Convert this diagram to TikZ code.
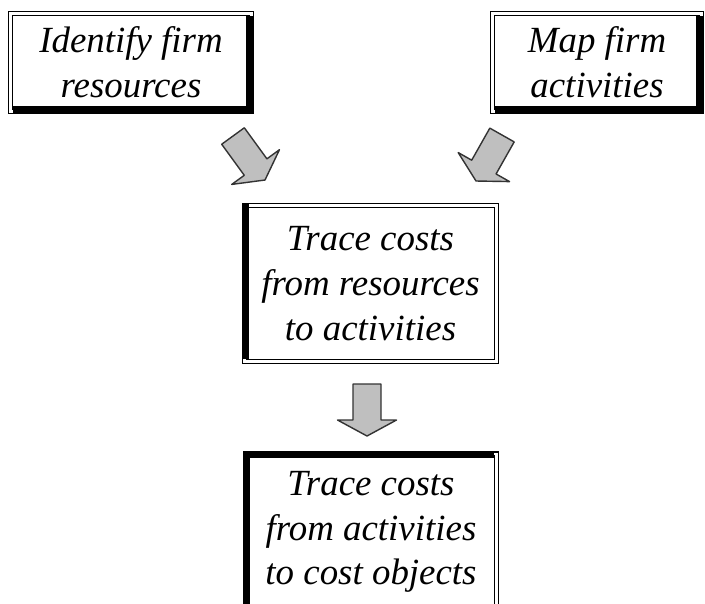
\documentclass[tikz,border=0pt]{standalone}
\usepackage{fontspec}
\setmainfont{Liberation Serif}
\usetikzlibrary{calc}

% double frame round a box node: outer and inner thin line
\newcommand{\dframe}[1]{%
  \draw[frameline] (#1.north west) rectangle (#1.south east);
  \draw[frameline] ([shift={(4,4)}]#1.north west) rectangle ([shift={(-4,-4)}]#1.south east);}

% grey block arrow from #1 (base of shaft) to #2 (tip)
\newcommand{\blockarrow}[2]{%
  \coordinate (hb) at ($(#2)!0.32cm!(#1)$);
  \draw[arrowfill] ($(#1)!0.28cm!90:(#2)$) -- ($(hb)!0.28cm!90:(#2)$)
    -- ($(hb)!0.59cm!90:(#2)$) -- (#2) -- ($(hb)!0.59cm!-90:(#2)$)
    -- ($(hb)!0.28cm!-90:(#2)$) -- ($(#1)!0.28cm!-90:(#2)$) -- cycle;}

\begin{document}
\begin{tikzpicture}[x=0.02cm, y=-0.02cm,
  stepbox/.style={inner sep=0pt, align=center,
    font=\itshape\fontsize{21}{25.5}\selectfont},
  frameline/.style={line width=0.9pt},
  arrowfill/.style={fill=black!25, draw=black!80, line width=0.8pt, line join=round}]
  \useasboundingbox (0,0) rectangle (705,603);
  % 1. the four boxes
  \node[stepbox, minimum width=4.88cm, minimum height=2.02cm] (res) at (131,62.5)
    {Identify firm\\resources};
  \node[stepbox, minimum width=4.24cm, minimum height=2.02cm] (act) at (597,62.5)
    {Map firm\\activities};
  \node[stepbox, minimum width=5.10cm, minimum height=3.18cm] (tra) at (370.5,283.5)
    {Trace costs\\from resources\\to activities};
  \node[stepbox, minimum width=5.08cm, minimum height=3.18cm] (obj) at (371,532)
    {Trace costs\\from activities\\to cost objects};
  % 2. frames, thick on right and bottom for the top row
  \dframe{res}
  \fill ([shift={(-7,4)}]res.north east) rectangle (res.south east);
  \fill ([shift={(4,-7)}]res.south west) rectangle (res.south east);
  \dframe{act}
  \fill ([shift={(-7,4)}]act.north east) rectangle (act.south east);
  \fill ([shift={(4,-7)}]act.south west) rectangle (act.south east);
  % thick on the left (and top) for the lower boxes
  \dframe{tra}
  \fill (tra.north west) rectangle ([shift={(6,-4)}]tra.south west);
  \dframe{obj}
  \fill (obj.north west) rectangle ([shift={(6,-4)}]obj.south west);
  \fill (obj.north west) rectangle ([shift={(-4,6)}]obj.north east);
  % 3. arrows between the steps
  \coordinate (a1) at (233,136);
  \coordinate (a1t) at (265,180);
  \coordinate (a2) at (502,135);
  \coordinate (a2t) at (476,181);
  \coordinate (a3) at (367,384);
  \coordinate (a3t) at (367,436);
  \blockarrow{a1}{a1t}
  \blockarrow{a2}{a2t}
  \blockarrow{a3}{a3t}
\end{tikzpicture}
\end{document}
